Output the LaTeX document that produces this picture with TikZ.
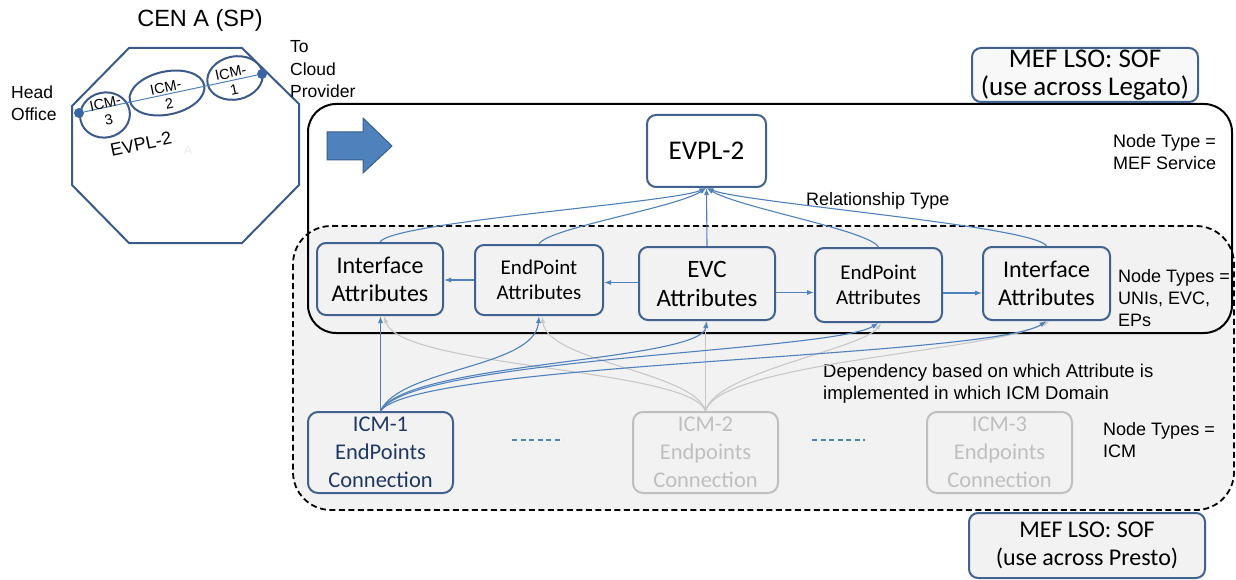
\documentclass[tikz,border=0pt]{standalone}
\usepackage{fontspec}
\setmainfont{Liberation Sans}
\newfontfamily\calib{Carlito}
\usetikzlibrary{arrows.meta,calc,shapes.geometric}
\definecolor{boxblue}{HTML}{41628F}
\definecolor{lineblue}{HTML}{4F81BD}
\definecolor{arrowborder}{HTML}{385D8A}
\definecolor{greyfill}{HTML}{F2F2F2}
\definecolor{greybox}{HTML}{BFBFBF}
\definecolor{greyline}{HTML}{C8C8C8}
\definecolor{navy}{HTML}{1F3864}
\definecolor{octblue}{HTML}{3A5A8C}
\definecolor{dotblue}{HTML}{3A66A8}
\newcommand{\fsz}[2]{\fontsize{#1}{#2}\selectfont}
\begin{document}
\begin{tikzpicture}[x=1pt,y=-1pt,
  attr/.style={draw=boxblue, line width=2pt, rounded corners=9pt, fill=greyfill, align=center, inner sep=0pt, text=black},
  icmbox/.style={draw=boxblue, line width=2pt, rounded corners=10pt, fill=greyfill, align=center, inner sep=0pt, minimum width=145pt, minimum height=81pt, font=\calib\fsz{22.5}{28}},
  greyicm/.style={icmbox, draw=greybox, text=greybox},
  mefbox/.style={draw=boxblue, line width=2pt, rounded corners=9pt, fill=greyfill, align=center, inner sep=0pt},
  lbl/.style={align=left, inner sep=0pt, anchor=west, font=\fsz{18}{22}},
  conn/.style={draw=lineblue, line width=1.1pt, -{Latex[length=7pt,width=5pt]}},
  gconn/.style={draw=greyline, line width=1.1pt, -{Latex[length=7pt,width=5pt]}},
  octo/.style={draw=octblue, line width=2pt},
  small/.style={inner sep=0pt, align=center, font=\fsz{14.5}{17}, rotate=12}
]
\useasboundingbox (0,0) rectangle (1236,580);

% ---------- left sketch ----------
\node[font=\fsz{23.5}{26}] (cen) at (200,20) {CEN A (SP)};
\draw[octo] (129,48) -- (242,48) -- (299,104) -- (299,185) -- (242,243) -- (129,243) -- (72,185) -- (72,106) -- cycle;
\draw[octo, rotate around={12:(105,115)}] (105,115) ellipse [x radius=25, y radius=22.5];
\draw[octo, rotate around={12:(167,93)}] (167,93) ellipse [x radius=38, y radius=21.5];
\draw[octo, rotate around={12:(235,78)}] (235,78) ellipse [x radius=28, y radius=21.5];
\node[circle, fill=dotblue, inner sep=0pt, minimum size=10pt] (hd) at (79,113) {};
\node[circle, fill=dotblue, inner sep=0pt, minimum size=10pt] (cd) at (262,74) {};
\draw[draw=lineblue, line width=1pt] (hd) -- (cd);
\node[small] (i3) at (107,111.5) {ICM-\\3};
\node[small] (i2) at (167.5,95.5) {ICM-\\2};
\node[small] (i1) at (232.5,81) {ICM-\\1};
\node[font=\fsz{18}{20}, rotate=12, inner sep=0pt] (evplsk) at (141,144) {EVPL-2};
\node[font=\fsz{12}{13}, text=black!8, inner sep=0pt] (faintA) at (188,150) {A};
\node[lbl, font=\fsz{17.5}{22}] (head) at (11,103.5) {Head\\Office};
\node[lbl, font=\fsz{17.5}{22.5}] (cloud) at (290,69.5) {To\\Cloud\\Provider};

% ---------- containers ----------
\draw[black, line width=1.8pt, dash pattern=on 6pt off 3.5pt, fill=greyfill, rounded corners=38pt] (293,226) rectangle (1234,510);
\draw[black, line width=2pt, rounded corners=28pt] (308,104) rectangle (1232,333);

\draw[fill=lineblue, draw=arrowborder, line width=1pt] (327,132) -- (363,132) -- (363,118) -- (392,146) -- (363,173) -- (363,160) -- (327,160) -- cycle;

% ---------- nodes ----------
\node[attr, fill=white, minimum width=119pt, minimum height=72pt, font=\calib\fsz{27}{30}] (evpl) at (706.5,151) {EVPL-2};
\node[attr, minimum width=126pt, minimum height=72pt, font=\calib\fsz{24}{28}] (ia1) at (380,279) {Interface\\Attributes};
\node[attr, minimum width=128pt, minimum height=70pt, font=\calib\fsz{21}{25}] (ep1) at (539,280) {EndPoint\\Attributes};
\node[attr, minimum width=136pt, minimum height=73pt, font=\calib\fsz{25}{29}] (evc) at (707,283.5) {EVC\\Attributes};
\node[attr, minimum width=127pt, minimum height=74pt, font=\calib\fsz{21}{25}] (ep2) at (878.5,285) {EndPoint\\Attributes};
\node[attr, minimum width=127pt, minimum height=73pt, font=\calib\fsz{24}{28}] (ia2) at (1046.5,283.5) {Interface\\Attributes};

\node[icmbox, text=navy] (icm1) at (380.5,452.5) {ICM-1\\EndPoints\\Connection};
\node[greyicm] (icm2) at (705.5,452.5) {ICM-2\\Endpoints\\Connection};
\node[greyicm] (icm3) at (999.5,452.5) {ICM-3\\Endpoints\\Connection};

\node[mefbox, fill=greyfill!50, minimum width=226pt, minimum height=54pt, font=\calib\fsz{27}{27.5}] (meftop) at (1085,75) {MEF LSO: SOF\\(use across Legato)};
\node[mefbox, minimum width=236pt, minimum height=65pt, font=\calib\fsz{24}{28}] (mefbot) at (1087,545.5) {MEF LSO: SOF\\(use across Presto)};

% ---------- labels ----------
\node[lbl] (lnt) at (1113,152.5) {Node Type =\\MEF Service};
\node[lbl] (lrel) at (806,201) {Relationship Type};
\node[lbl] (lnts) at (1118,298) {Node Types =\\UNIs, EVC,\\EPs};
\node[lbl, font=\fsz{18.5}{22}] (ldep) at (823,384) {Dependency based on which Attribute is\\implemented in which ICM Domain};
\node[lbl] (lnti) at (1103,440.5) {Node Types =\\ICM};

% ---------- relationship arrows to EVPL-2 ----------
\draw[conn] (ia1.north) .. controls (392,222) and (670,203) .. (evpl.south);
\draw[conn] (ep1.north) .. controls (548,228) and (675,208) .. (evpl.south);
\draw[conn] (evc.north) -- (evpl.south);
\draw[conn] (ep2.north) .. controls (868,230) and (740,208) .. (evpl.south);
\draw[conn] (ia2.north) .. controls (1035,226) and (745,203) .. (evpl.south);

% ---------- horizontal arrows ----------
\draw[conn] ([yshift=1pt]evc.west) -- ([yshift=1pt]evc.west -| ep1.east);
\draw[conn] (ep1.west) -- (ep1.west -| ia1.east);
\draw[conn] ([yshift=-9pt]evc.east) -- ([yshift=-9pt]evc.east -| ep2.west);
\draw[conn] ([yshift=-8pt]ep2.east) -- ([yshift=-8pt]ep2.east -| ia2.west);

% ---------- dependency fans ----------
\draw[gconn] (icm2.north) .. controls (690,368) and (400,368) .. ([xshift=4pt]ia1.south);
\draw[gconn] (icm2.north) .. controls (695,372) and (548,362) .. ([xshift=3pt]ep1.south);
\draw[gconn] (icm2.north) -- (icm2.north |- evc.south);
\draw[gconn] (icm2.north) .. controls (715,372) and (860,350) .. ([xshift=3pt]ep2.south);
\draw[gconn] (icm2.north) .. controls (720,362) and (990,352) .. ([xshift=3pt]ia2.south);

\draw[conn] (icm1.north) -- (icm1.north |- ia1.south);
\draw[conn] (icm1.north) .. controls (400,368) and (535,368) .. (ep1.south);
\draw[conn] (icm1.north) .. controls (405,362) and (700,362) .. (evc.south);
\draw[conn] (icm1.north) .. controls (410,358) and (830,352) .. (ep2.south);
\draw[conn] (icm1.north) .. controls (415,362) and (990,358) .. (ia2.south);

% ---------- dashes between ICM boxes ----------
\coordinate (d1a) at (512,440); \coordinate (d1b) at (563,440);
\coordinate (d2a) at (812,440); \coordinate (d2b) at (865,440);
\draw[lineblue, line width=1.2pt, dash pattern=on 5pt off 3.5pt] (d1a) -- (d1b);
\draw[lineblue, line width=1.2pt, dash pattern=on 5pt off 3.5pt] (d2a) -- (d2b);
\end{tikzpicture}
\end{document}
